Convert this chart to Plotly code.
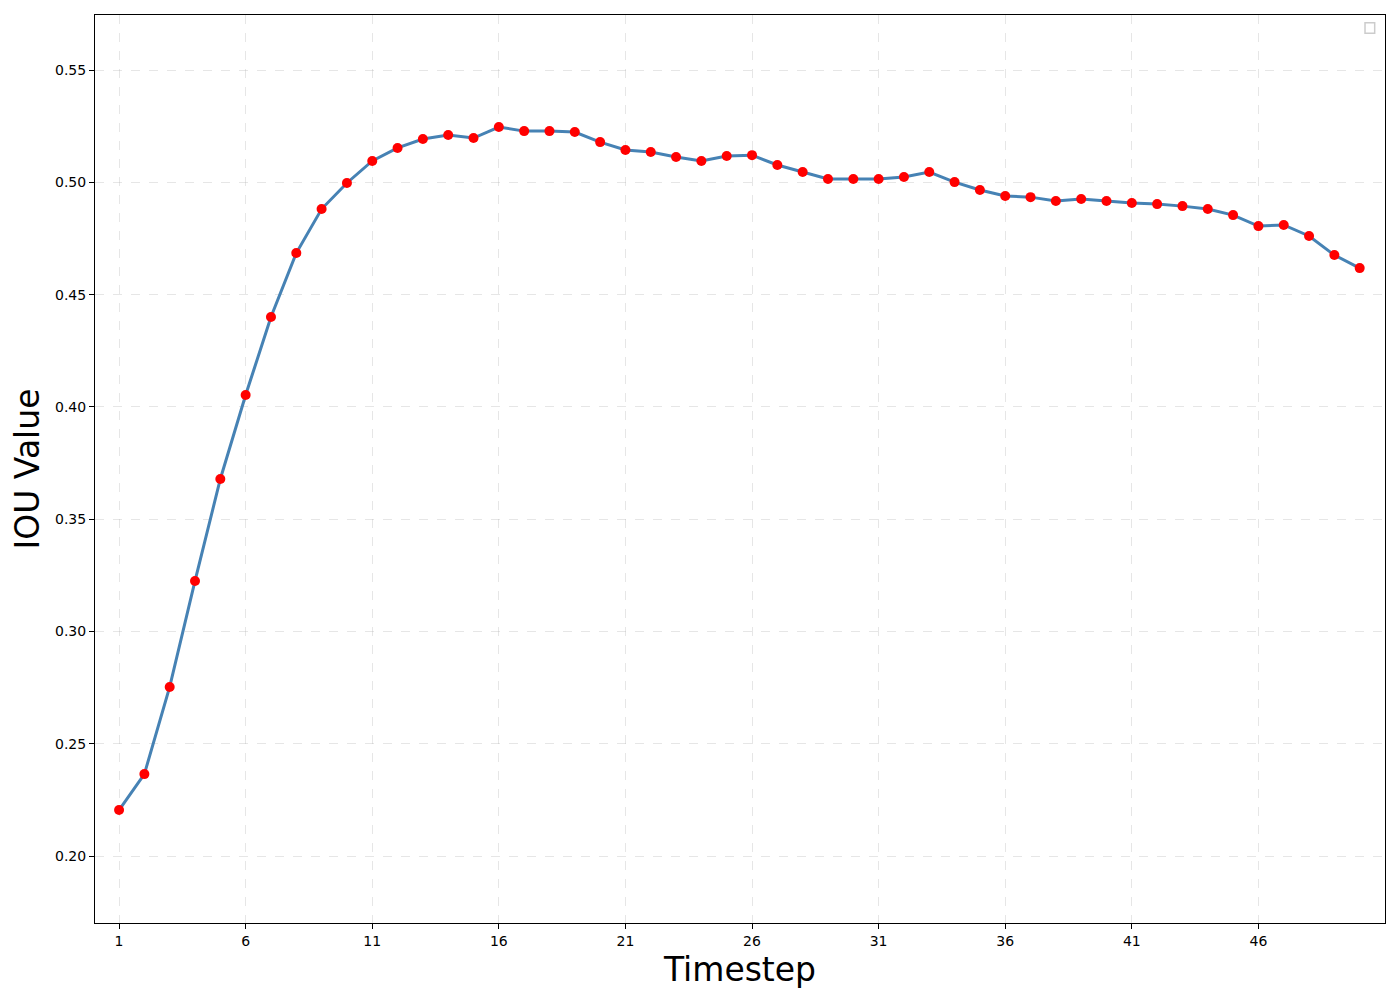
import plotly.graph_objects as go

timesteps = list(range(1, 51))
iou_values = [
    0.2205, 0.2365, 0.2753, 0.3225, 0.3679, 0.4053, 0.4400, 0.4685, 0.4881, 0.4997,
    0.5095, 0.5153, 0.5193, 0.5211, 0.5197, 0.5246, 0.5228, 0.5228, 0.5224, 0.5179,
    0.5144, 0.5135, 0.5113, 0.5095, 0.5117, 0.5121, 0.5077, 0.5046, 0.5015, 0.5015,
    0.5015, 0.5024, 0.5046, 0.5001, 0.4966, 0.4939, 0.4934, 0.4917, 0.4926, 0.4917,
    0.4908, 0.4903, 0.4894, 0.4881, 0.4854, 0.4805, 0.4810, 0.4761, 0.4676, 0.4618,
]
x_ticks = [1, 6, 11, 16, 21, 26, 31, 36, 41, 46]
y_ticks = [0.20, 0.25, 0.30, 0.35, 0.40, 0.45, 0.50, 0.55]

fig = go.Figure()
fig.add_trace(go.Scatter(
    x=timesteps, y=iou_values, mode="lines+markers",
    line=dict(color="#4682B4", width=3),
    marker=dict(color="red", size=10),
    showlegend=False,
))

grid = dict(showgrid=True, gridcolor="rgba(176,176,176,0.32)", griddash="dash", gridwidth=1)
fig.update_xaxes(
    range=[0.05, 51.0], tickvals=x_ticks, ticks="outside", ticklen=5, tickcolor="black",
    showline=True, linecolor="black", linewidth=1, mirror=True, zeroline=False,
    tickfont=dict(family="DejaVu Sans", size=14, color="black"),
    title=dict(text="Timestep", font=dict(family="DejaVu Sans", size=33, color="black"), standoff=10),
    **grid,
)
fig.update_yaxes(
    range=[0.1702, 0.5745], tickvals=y_ticks, tickformat=".2f", ticks="outside", ticklen=5,
    tickcolor="black", showline=True, linecolor="black", linewidth=1, mirror=True, zeroline=False,
    tickfont=dict(family="DejaVu Sans", size=14, color="black"),
    title=dict(text="IOU Value", font=dict(family="DejaVu Sans", size=33, color="black"), standoff=12),
    **grid,
)
fig.add_shape(type="rect", xref="paper", yref="paper", x0=0.9845, x1=0.992, y0=0.980, y1=0.9915,
              line=dict(color="#cccccc", width=1.5), fillcolor="rgba(0,0,0,0)")
fig.update_layout(
    width=1392, height=992, plot_bgcolor="white", paper_bgcolor="white",
    margin=dict(l=87, r=15, t=7, b=77),
    font=dict(family="DejaVu Sans"),
)
fig.write_html("out.html")
